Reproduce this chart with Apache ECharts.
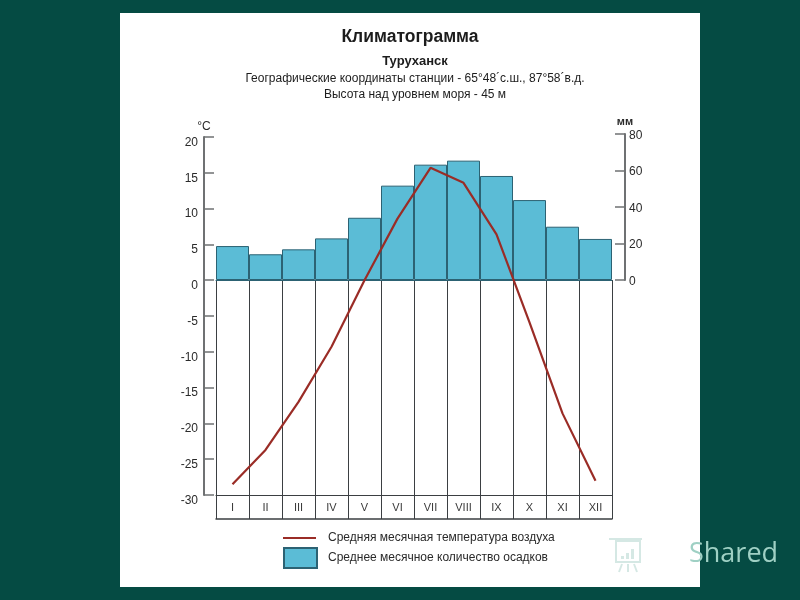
<!DOCTYPE html>
<html>
<head>
<meta charset="utf-8">
<title>Климатограмма</title>
<style>
  html, body { margin: 0; padding: 0; background: #054b43; }
  #chart { width: 800px; height: 600px; }
</style>
<script src="https://cdn.jsdelivr.net/npm/echarts@6/dist/echarts.min.js"></script>
</head>
<body>
<div id="chart"></div>
<script>
const months = ['I', 'II', 'III', 'IV', 'V', 'VI', 'VII', 'VIII', 'IX', 'X', 'XI', 'XII'];
// mm
const precipitation = [18.6, 14.1, 16.8, 22.8, 34.1, 51.7, 63.2, 65.4, 57, 43.8, 29.2, 22.5];
// deg C
const temperature = [-28.5, -23.7, -17, -9.3, 0, 8.6, 15.7, 13.6, 6.4, -5.9, -18.6, -28];

const lineName = 'Средняя месячная температура воздуха';
const barName = 'Среднее месячное количество осадков';

const font = '"Liberation Sans", Arial, sans-serif';
const darkLine = '#3b3f42';
const axisGray = '#6f7173';
const textColor = '#2a2a2a';

function headline(text, x, y, size, weight) {
  return {
    text: text,
    left: x,
    top: y,
    textAlign: 'center',
    padding: 0,
    textStyle: { fontFamily: font, fontSize: size, fontWeight: weight, color: '#1c1c1c' }
  };
}

const chart = echarts.init(document.getElementById('chart'));

chart.setOption({
  animation: false,
  backgroundColor: '#054b43',
  title: [
    headline('Климатограмма', 410, 28, 17.5, 'bold'),
    headline('Туруханск', 415, 55, 13, 'bold'),
    headline('Географические координаты станции - 65°48´с.ш., 87°58´в.д.', 415, 73, 12, 'normal'),
    headline('Высота над уровнем моря - 45 м', 415, 89, 12, 'normal')
  ],
  legend: [
    {
      data: [lineName],
      left: 283,
      top: 532,
      padding: 0,
      icon: 'rect',
      itemWidth: 33,
      itemHeight: 2,
      textStyle: { fontFamily: font, fontSize: 12, color: textColor, padding: [0, 0, 0, 7] }
    },
    {
      data: [barName],
      left: 283,
      top: 547,
      padding: 0,
      icon: 'rect',
      itemWidth: 33,
      itemHeight: 20,
      textStyle: { fontFamily: font, fontSize: 12, color: textColor, padding: [0, 0, 0, 6] }
    }
  ],
  // temperature, precipitation, table under the zero line
  grid: [
    { left: 216, width: 396, top: 137, height: 358 },
    { left: 216, width: 396, top: 134, height: 146 },
    { left: 216, width: 396, top: 280, height: 239 }
  ],
  xAxis: [
    {
      gridIndex: 0,
      type: 'category',
      data: months,
      axisLine: { onZero: false, lineStyle: { color: darkLine, width: 1 } },
      axisTick: { show: false },
      axisLabel: { show: false }
    },
    {
      gridIndex: 1,
      type: 'category',
      data: months,
      axisLine: { lineStyle: { color: '#2c6273', width: 1 } },
      axisTick: { show: false },
      axisLabel: { show: false }
    },
    {
      gridIndex: 2,
      type: 'category',
      data: months,
      axisLine: { lineStyle: { color: darkLine, width: 1.5 } },
      axisTick: { show: false },
      axisLabel: { inside: true, margin: 6, fontFamily: font, fontSize: 11, color: '#3a3a3a' },
      splitLine: { show: true, lineStyle: { color: darkLine, width: 1 } }
    }
  ],
  yAxis: [
    {
      gridIndex: 0,
      type: 'value',
      min: -30,
      max: 20,
      interval: 5,
      offset: 12,
      name: '°C',
      nameLocation: 'end',
      nameGap: 4,
      nameTextStyle: { fontFamily: font, fontSize: 12, color: textColor },
      axisLine: { show: true, onZero: false, lineStyle: { color: axisGray, width: 2 } },
      axisTick: { show: true, inside: true, length: 10, lineStyle: { color: axisGray, width: 1.5 } },
      // the original prints these numbers just under their ticks
      axisLabel: { margin: 6, fontFamily: font, fontSize: 12, color: textColor, verticalAlign: 'top', lineHeight: 11 },
      splitLine: { show: false }
    },
    {
      gridIndex: 1,
      type: 'value',
      position: 'right',
      min: 0,
      max: 80,
      interval: 20,
      offset: 13,
      name: 'мм',
      nameLocation: 'end',
      nameGap: 7,
      nameTextStyle: { fontFamily: font, fontSize: 11, fontWeight: 'bold', color: textColor },
      axisLine: { show: true, lineStyle: { color: axisGray, width: 2 } },
      axisTick: { show: true, inside: true, length: 10, lineStyle: { color: axisGray, width: 1.5 } },
      axisLabel: { margin: 4, fontFamily: font, fontSize: 12, color: textColor, verticalAlign: 'top', lineHeight: 3 },
      splitLine: { show: false }
    },
    {
      gridIndex: 2,
      type: 'value',
      show: false
    }
  ],
  series: [
    {
      name: barName,
      type: 'bar',
      xAxisIndex: 1,
      yAxisIndex: 1,
      data: precipitation,
      barWidth: '100%',
      itemStyle: { color: '#5bbcd6', borderColor: '#2c6273', borderWidth: 1 }
    },
    {
      name: lineName,
      type: 'line',
      xAxisIndex: 0,
      yAxisIndex: 0,
      data: temperature,
      z: 5,
      symbol: 'none',
      lineStyle: { color: '#9a2c26', width: 2.2 },
      itemStyle: { color: '#9a2c26' }
    }
  ],
  graphic: [
    { type: 'rect', z: -10, shape: { x: 120, y: 13, width: 580, height: 574 }, style: { fill: '#ffffff' } },
    // watermark
    { type: 'text', z: 20, x: 689, y: 541, style: { text: 'Shared', fontFamily: '"Open Sans", sans-serif', fontSize: 27, fill: '#9fd0c4' } },
    { type: 'rect', z: 20, shape: { x: 616, y: 541, width: 24, height: 21 }, style: { fill: 'none', stroke: '#d5e8e4', lineWidth: 2 } },
    { type: 'line', z: 20, shape: { x1: 609, y1: 539, x2: 642, y2: 539 }, style: { stroke: '#d5e8e4', lineWidth: 2 } },
    { type: 'rect', z: 20, shape: { x: 621, y: 556, width: 3, height: 3 }, style: { fill: '#d5e8e4' } },
    { type: 'rect', z: 20, shape: { x: 626, y: 553, width: 3, height: 6 }, style: { fill: '#d5e8e4' } },
    { type: 'rect', z: 20, shape: { x: 631, y: 549, width: 3, height: 10 }, style: { fill: '#d5e8e4' } },
    { type: 'line', z: 20, shape: { x1: 622, y1: 564, x2: 619, y2: 572 }, style: { stroke: '#d5e8e4', lineWidth: 2 } },
    { type: 'line', z: 20, shape: { x1: 628, y1: 564, x2: 628, y2: 572 }, style: { stroke: '#d5e8e4', lineWidth: 2 } },
    { type: 'line', z: 20, shape: { x1: 634, y1: 564, x2: 637, y2: 572 }, style: { stroke: '#d5e8e4', lineWidth: 2 } }
  ]
});
</script>
</body>
</html>
